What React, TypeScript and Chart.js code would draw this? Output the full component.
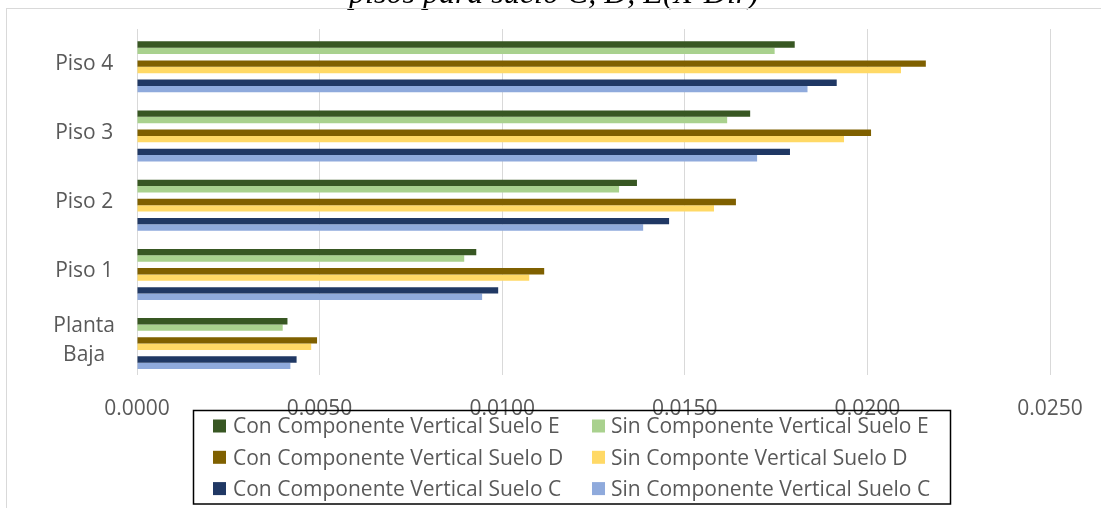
import React, { useEffect, useRef } from "react";
import { Chart, registerables } from "chart.js";

Chart.register(...registerables);

// ---- data ----
const categories: (string | string[])[] = ["Piso 4", "Piso 3", "Piso 2", "Piso 1", ["Planta", "Baja"]];
const xTicks = [0, 0.005, 0.01, 0.015, 0.02, 0.025];

const conE = [0.01801, 0.01679, 0.01369, 0.00929, 0.00412];
const sinE = [0.01746, 0.01616, 0.0132, 0.00896, 0.00399];
const conD = [0.0216, 0.0201, 0.0164, 0.01115, 0.00493];
const sinD = [0.02092, 0.01936, 0.0158, 0.01074, 0.00477];
const conC = [0.01916, 0.01788, 0.01457, 0.00989, 0.00437];
const sinC = [0.01836, 0.01698, 0.01386, 0.00945, 0.0042];

const seriesNames = [
  "Con Componente Vertical Suelo E",
  "Sin Componente Vertical Suelo E",
  "Con Componente Vertical Suelo D",
  "Sin Componte Vertical Suelo D",
  "Con Componente Vertical Suelo C",
  "Sin Componente Vertical Suelo C",
];
const seriesColors = ["#385723", "#A9D18E", "#7F6000", "#FFD966", "#203864", "#8FAADC"];

const titleText = "pisos para suelo C, D, E(X-Dir)";

const FONT = "'Open Sans', sans-serif";
const TEXT = "#595959";

const decorPlugin = {
  id: "decor",
  beforeDraw(chart: any) {
    const ctx = chart.ctx as CanvasRenderingContext2D;
    ctx.save();
    ctx.fillStyle = "#ffffff";
    ctx.fillRect(0, 0, chart.width, chart.height);
    ctx.font = "italic 32px 'Liberation Serif', serif";
    ctx.fillStyle = "#000000";
    ctx.textAlign = "center";
    ctx.textBaseline = "alphabetic";
    ctx.fillText(titleText, 554, 2.5);
    ctx.strokeStyle = "#D9D9D9";
    ctx.lineWidth = 1;
    ctx.strokeRect(6.5, 8.5, chart.width + 10, chart.height + 10);
    ctx.restore();
  },
  afterDraw(chart: any) {
    const ctx = chart.ctx as CanvasRenderingContext2D;
    ctx.save();
    ctx.strokeStyle = "#000000";
    ctx.lineWidth = 1.5;
    ctx.strokeRect(193.5, 410.5, 757, 93.5);
    const items = chart.data.datasets.filter((d: any) => d.inLegend);
    const fs = 21;
    ctx.font = `${fs}px ${FONT}`;
    ctx.textAlign = "left";
    ctx.textBaseline = "alphabetic";
    items.forEach((d: any, i: number) => {
      const row = Math.floor(i / 2);
      const col = i % 2;
      const cy = 426 + row * 31.3;
      const sx = col === 0 ? 213 : 592;
      const tx = col === 0 ? 233 : 611;
      ctx.fillStyle = d.backgroundColor;
      ctx.fillRect(sx, cy - 6.5, 13, 13);
      ctx.fillStyle = TEXT;
      ctx.fillText(d.label, tx, cy + 0.357 * fs);
    });
    ctx.restore();
  },
};

export default function App() {
  const ref = useRef<HTMLCanvasElement>(null);

  useEffect(() => {
    if (!ref.current) return;
    const values = [conE, sinE, conD, sinD, conC, sinC];
    const spacer = (n: number) => ({
      label: "spacer" + n,
      data: categories.map(() => null),
      backgroundColor: "rgba(0,0,0,0)",
      inLegend: false,
    });
    const real = (i: number) => ({
      label: seriesNames[i],
      data: values[i],
      backgroundColor: seriesColors[i],
      borderWidth: 0,
      inLegend: true,
    });
    const datasets: any[] = [
      spacer(0),
      real(0),
      real(1),
      spacer(1),
      real(2),
      real(3),
      spacer(2),
      real(4),
      real(5),
    ];

    const chart = new Chart(ref.current, {
      type: "bar",
      data: { labels: categories as any, datasets },
      plugins: [decorPlugin as any],
      options: {
        indexAxis: "y",
        animation: false,
        responsive: false,
        devicePixelRatio: 1,
        layout: { padding: { top: 29, right: 51, left: 0, bottom: 0 } },
        datasets: { bar: { categoryPercentage: 0.829, barPercentage: 1.0 } },
        plugins: {
          legend: { display: false },
          title: { display: false },
          tooltip: { enabled: false },
        },
        scales: {
          x: {
            type: "linear",
            min: 0,
            max: 0.025,
            afterBuildTicks: (scale: any) => {
              scale.ticks = xTicks.map((v) => ({ value: v }));
            },
            afterFit: (scale: any) => {
              scale.height = 133;
              scale.paddingLeft = 0;
              scale.paddingRight = 0;
              scale.paddingTop = 0;
              scale.paddingBottom = 0;
            },
            grid: { color: "#D9D9D9", lineWidth: 1, drawTicks: false },
            border: { display: false },
            ticks: {
              color: TEXT,
              font: { family: FONT, size: 21 },
              padding: 21,
              maxRotation: 0,
              callback: (v: any) => Number(v).toFixed(4),
            },
          },
          y: {
            afterFit: (scale: any) => {
              scale.width = 137;
              scale.paddingTop = 0;
              scale.paddingBottom = 0;
              scale.paddingLeft = 0;
              scale.paddingRight = 0;
            },
            grid: { display: false, drawTicks: false },
            border: { display: false },
            ticks: {
              color: TEXT,
              font: { family: FONT, size: 21, lineHeight: 1.38 },
              padding: 22,
              crossAlign: "center",
            },
          },
        },
      } as any,
    });
    return () => chart.destroy();
  }, []);

  return (
    <div style={{ position: "fixed", left: 0, top: 0, width: 1101, height: 508, background: "#fff" }}>
      <canvas ref={ref} width={1101} height={508} style={{ display: "block", width: 1101, height: 508 }} />
    </div>
  );
}
